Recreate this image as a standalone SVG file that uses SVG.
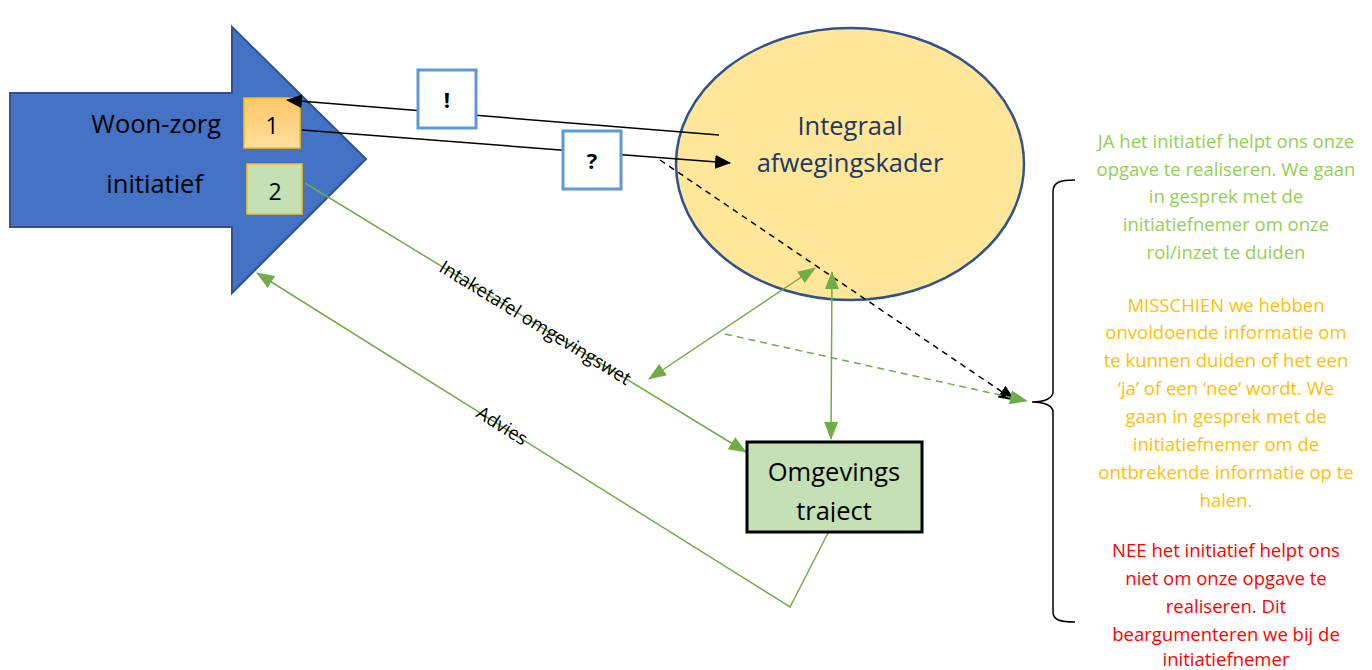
<svg xmlns="http://www.w3.org/2000/svg" width="1372" height="670" viewBox="0 0 1372 670">
<style>
text{font-family:"Open Sans","Noto Sans","Liberation Sans",sans-serif}
.big{font-size:25.5px;fill:#000}
.lbl{font-size:18.5px;fill:#000}
.col{font-size:18.5px;text-anchor:middle}
.ja{fill:#92D050}
.mis{fill:#FFC000}
.nee{fill:#FF0000}
.blk{stroke:#000;stroke-width:1.5;fill:none}
.grn{stroke:#70AD47;stroke-width:1.5;fill:none}
.sym{stroke:#5B9BD5;stroke-width:3;fill:#fff}
</style>
<defs>
<marker id="ab" markerUnits="userSpaceOnUse" markerWidth="16" markerHeight="14" refX="15" refY="7" orient="auto"><path d="M0,0 L16,7 L0,14 z" fill="#000"/></marker>
<marker id="ag" markerUnits="userSpaceOnUse" markerWidth="18" markerHeight="14" refX="17" refY="7" orient="auto"><path d="M0,0 L18,7 L0,14 z" fill="#70AD47"/></marker>
<marker id="ags" markerUnits="userSpaceOnUse" markerWidth="18" markerHeight="14" refX="1" refY="7" orient="auto"><path d="M18,0 L0,7 L18,14 z" fill="#70AD47"/></marker>
<linearGradient id="og" x1="0" y1="0" x2="0" y2="1"><stop offset="0" stop-color="#FFC768"/><stop offset="1" stop-color="#FFDE9C"/></linearGradient>
<clipPath id="boxclip"><rect x="749" y="444" width="171" height="78"/></clipPath>
</defs>

<g id="woonzorg">
<path d="M10,93 L232,93 L232,27 L366,159 L232,293 L232,227 L10,227 Z" fill="#4472C4" stroke="#2F528F" stroke-width="2"/>
<text class="big" x="221" y="133" text-anchor="end">Woon-zorg</text>
<text class="big" x="203" y="193" text-anchor="end">initiatief</text>
</g>
<g id="box1">
<rect x="244" y="98" width="56" height="50" fill="url(#og)" stroke="#FFC000" stroke-width="1.5"/>
<text class="big" x="272" y="134" text-anchor="middle" style="font-size:23px">1</text>
</g>
<g id="box2">
<rect x="247" y="164" width="55" height="50" fill="#C5E0B4" stroke="#FFC000" stroke-width="1.5"/>
<text class="big" x="275" y="200" text-anchor="middle" style="font-size:23px">2</text>
</g>

<g id="kader">
<ellipse cx="850" cy="164" rx="174" ry="136" fill="#FFE699" stroke="#2F528F" stroke-width="2.5"/>
<text x="850" y="135" text-anchor="middle" style="font-size:25.5px;fill:#203864">Integraal</text>
<text x="850" y="172" text-anchor="middle" style="font-size:25.5px;fill:#203864">afwegingskader</text>
</g>

<g id="connectors">
<line class="blk" x1="719" y1="135" x2="287" y2="100" marker-end="url(#ab)"/>
<line class="blk" x1="302" y1="130" x2="730" y2="163" marker-end="url(#ab)"/>
<line class="blk" x1="660" y1="160" x2="1014" y2="400" stroke-dasharray="6,5" marker-end="url(#ab)"/>
<line class="grn" x1="725" y1="334" x2="1027" y2="401" stroke-dasharray="7,5" marker-end="url(#ag)"/>
<line class="grn" x1="649" y1="379" x2="815" y2="268" marker-start="url(#ags)" marker-end="url(#ag)"/>
<line class="grn" x1="832" y1="272" x2="831" y2="439" marker-start="url(#ags)" marker-end="url(#ag)"/>
<line class="grn" x1="305" y1="183" x2="746" y2="452" marker-end="url(#ag)"/>
<polyline class="grn" points="828,533 790,607 257,273" marker-end="url(#ag)"/>
<text class="lbl" transform="translate(535,323) rotate(31.4)" text-anchor="middle" dy="6">Intaketafel omgevingswet</text>
<text class="lbl" transform="translate(502,426) rotate(32.1)" text-anchor="middle" dy="6">Advies</text>
</g>

<g id="excl">
<rect class="sym" x="418" y="70" width="58" height="58"/>
<text x="447" y="108" text-anchor="middle" style="font-size:22px;font-weight:bold">!</text>
</g>
<g id="quest">
<rect class="sym" x="563" y="131" width="58" height="58"/>
<text x="592" y="169" text-anchor="middle" style="font-size:22px;font-weight:bold">?</text>
</g>

<g id="traject">
<rect x="747" y="442" width="175" height="90" fill="#C5E0B4" stroke="#000" stroke-width="3"/>
<g clip-path="url(#boxclip)">
<text x="834" y="481" text-anchor="middle" style="font-size:25.5px">Omgevings</text>
<text x="834" y="520" text-anchor="middle" style="font-size:25.5px">traject</text>
</g>
</g>

<g id="bracket">
<path d="M1075,180 C1060,180 1053,182 1053,192 L1053,392 C1053,398 1045,402 1032,402 C1045,402 1053,406 1053,412 L1053,612 C1053,620 1060,622 1075,622" fill="none" stroke="#000" stroke-width="1.5"/>
</g>

<g id="uitleg">
<text class="col ja" x="1226" y="148">JA het initiatief helpt ons onze</text>
<text class="col ja" x="1226" y="176">opgave te realiseren. We gaan</text>
<text class="col ja" x="1226" y="203">in gesprek met de</text>
<text class="col ja" x="1226" y="231">initiatiefnemer om onze</text>
<text class="col ja" x="1226" y="259">rol/inzet te duiden</text>
<text class="col mis" x="1226" y="312">MISSCHIEN we hebben</text>
<text class="col mis" x="1226" y="339">onvoldoende informatie om</text>
<text class="col mis" x="1226" y="367">te kunnen duiden of het een</text>
<text class="col mis" x="1226" y="395">‘ja’ of een ‘nee’ wordt. We</text>
<text class="col mis" x="1226" y="423">gaan in gesprek met de</text>
<text class="col mis" x="1226" y="451">initiatiefnemer om de</text>
<text class="col mis" x="1226" y="479">ontbrekende informatie op te</text>
<text class="col mis" x="1226" y="507">halen.</text>
<text class="col nee" x="1226" y="557">NEE het initiatief helpt ons</text>
<text class="col nee" x="1226" y="585">niet om onze opgave te</text>
<text class="col nee" x="1226" y="613">realiseren. Dit</text>
<text class="col nee" x="1226" y="641">beargumenteren we bij de</text>
<text class="col nee" x="1226" y="666">initiatiefnemer</text>
</g>
</svg>
